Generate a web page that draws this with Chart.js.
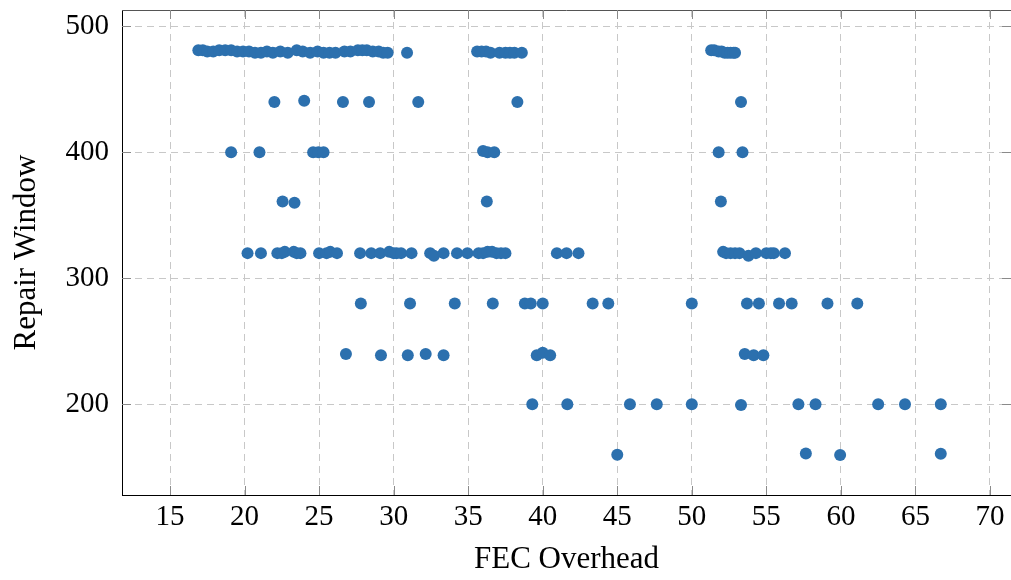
<!DOCTYPE html>
<html>
<head>
<meta charset="utf-8">
<script src="https://cdn.jsdelivr.net/npm/chart.js@4/dist/chart.umd.min.js"></script>
<style>
html,body{margin:0;padding:0;background:#fff;}
#wrap{width:1011px;height:580px;}
</style>
</head>
<body>
<div id="wrap"><canvas id="c" width="1011" height="580"></canvas></div>
<script>
// Row ~480
const row480X = [16.9,17.2,17.5,17.9,18.3,18.7,19.1,19.5,19.9,20.3,20.7,21.1,21.5,21.9,22.4,22.9,23.5,23.9,24.4,24.9,25.3,25.7,26.1,26.7,27.1,27.6,27.9,28.2,28.6,29.0,29.3,29.6,30.9,35.6,35.9,36.2,36.5,37.1,37.5,37.8,38.1,38.6,51.3,51.5,51.8,52.0,52.2,52.4,52.6,52.8,52.9];
const row480Y = [481,481,480,480,481,481,481,480,480,480,479,479,480,479,480,479,481,480,479,480,479,479,479,480,480,481,481,481,480,480,479,479,479,480,480,480,479,479,479,479,479,479,481,481,480,480,479,479,479,479,479];
// Row ~440
const row440X = [22.0,24.0,26.6,28.35,31.65,38.3,53.3];
const row440Y = [440,441,440,440,440,440,440];
// Row ~400
const row400X = [19.1,21.0,24.6,24.95,25.3,36.0,36.3,36.75,51.8,53.4];
const row400Y = [400,400,400,400,400,401,400,400,400,400];
// Row ~360
const row360X = [22.55,23.35,36.25,51.95];
const row360Y = [361,360,361,361];
// Row ~320
const row320X = [20.2,21.1,22.2,22.5,22.7,23.3,23.5,23.75,25.0,25.5,25.75,26.2,27.75,28.5,29.1,29.7,30.0,30.2,30.5,31.2,32.45,32.7,33.35,34.25,34.95,35.7,36.0,36.3,36.6,36.9,37.2,37.5,40.95,41.6,42.4,52.1,52.3,52.6,52.9,53.2,53.8,54.3,55.0,55.3,55.5,56.25];
const row320Y = [320,320,320,320,321,321,320,320,320,320,321,320,320,320,320,321,320,320,320,320,320,318,320,320,320,320,320,321,321,320,320,320,320,320,320,321,320,320,320,320,318,320,320,320,320,320];
// Row ~280
const row280X = [27.8,31.1,34.1,36.65,38.8,39.2,40.0,43.35,44.4,50.0,53.7,54.5,55.85,56.7,59.1,61.1];
const row280Y = [280,280,280,280,280,280,280,280,280,280,280,280,280,280,280,280];
// Row ~240
const row240X = [26.8,29.15,30.95,32.15,33.35,39.6,40.0,40.5,53.55,54.15,54.8];
const row240Y = [240,239,239,240,239,239,241,239,240,239,239];
// Row ~200
const row200X = [39.3,41.65,45.85,47.65,50.0,53.3,57.15,58.3,62.5,64.3,66.7];
const row200Y = [200,200,200,200,200,199.5,200,200,200,200,200];
// Row ~160
const row160X = [45.0,57.65,59.95,66.7];
const row160Y = [160,161,159.7,160.8];

const xTicksStep = 5;
const yTicksStep = 100;

const allX = [].concat(row480X,row440X,row400X,row360X,row320X,row280X,row240X,row200X,row160X);
const allY = [].concat(row480Y,row440Y,row400Y,row360Y,row320Y,row280Y,row240Y,row200Y,row160Y);
const points = allX.map((x,i)=>({x:x, y:allY[i]}));

const FONT = "'Liberation Serif', 'Times New Roman', serif";

const innerTicks = {
  id: 'innerTicks',
  afterDraw(chart) {
    const {ctx, chartArea: a, scales} = chart;
    ctx.save();
    ctx.strokeStyle = '#555';
    ctx.lineWidth = 1;
    ctx.beginPath();
    ctx.moveTo(a.left, a.top + 0.5);
    ctx.lineTo(a.right, a.top + 0.5);
    ctx.stroke();
    ctx.strokeStyle = '#8a8a8a';
    ctx.beginPath();
    scales.x.ticks.forEach(t => {
      const px = Math.round(scales.x.getPixelForValue(t.value)) + 0.5;
      ctx.moveTo(px, a.bottom); ctx.lineTo(px, a.bottom - 9);
      ctx.moveTo(px, a.top); ctx.lineTo(px, a.top + 9);
    });
    scales.y.ticks.forEach(t => {
      const py = Math.round(scales.y.getPixelForValue(t.value)) + 0.5;
      ctx.moveTo(a.left, py); ctx.lineTo(a.left + 9, py);
      ctx.moveTo(a.right, py); ctx.lineTo(a.right - 9, py);
    });
    ctx.stroke();
    ctx.restore();
  }
};

new Chart(document.getElementById('c'), {
  type: 'scatter',
  data: {
    datasets: [{
      data: points,
      backgroundColor: '#2c70ae',
      borderColor: '#2c70ae',
      borderWidth: 0,
      pointRadius: 6,
      pointHoverRadius: 6
    }]
  },
  options: {
    responsive: false,
    animation: false,
    events: [],
    layout: { autoPadding: false, padding: { top: 10, right: 0, left: 0, bottom: 0 } },
    plugins: { legend: { display: false }, tooltip: { enabled: false } },
    scales: {
      x: {
        type: 'linear',
        min: 11.78,
        max: 71.41,
        afterFit(s) { s.height = 85; s.paddingLeft = 0; s.paddingRight = 0; },
        ticks: {
          stepSize: xTicksStep,
          includeBounds: false,
          padding: 5,
          color: '#000',
          maxRotation: 0,
          font: { family: FONT, size: 29 }
        },
        grid: { color: '#c8c8c8', lineWidth: 1, drawTicks: false },
        border: { display: true, color: '#000', width: 1, dash: [7, 5] },
        title: {
          display: true,
          text: 'FEC Overhead',
          color: '#000',
          font: { family: FONT, size: 31 },
          padding: { top: 0, bottom: 2 }
        }
      },
      y: {
        type: 'linear',
        min: 128,
        max: 513,
        afterFit(s) { s.width = 122; s.paddingTop = 0; s.paddingBottom = 0; },
        ticks: {
          stepSize: yTicksStep,
          includeBounds: false,
          padding: 13,
          color: '#000',
          font: { family: FONT, size: 29 }
        },
        grid: { color: '#c8c8c8', lineWidth: 1, drawTicks: false },
        border: { display: true, color: '#000', width: 1, dash: [7, 5] },
        title: {
          display: true,
          text: 'Repair Window',
          color: '#000',
          font: { family: FONT, size: 31 },
          padding: { top: 8, bottom: 0 }
        }
      }
    }
  },
  plugins: [innerTicks]
});
</script>
</body>
</html>
